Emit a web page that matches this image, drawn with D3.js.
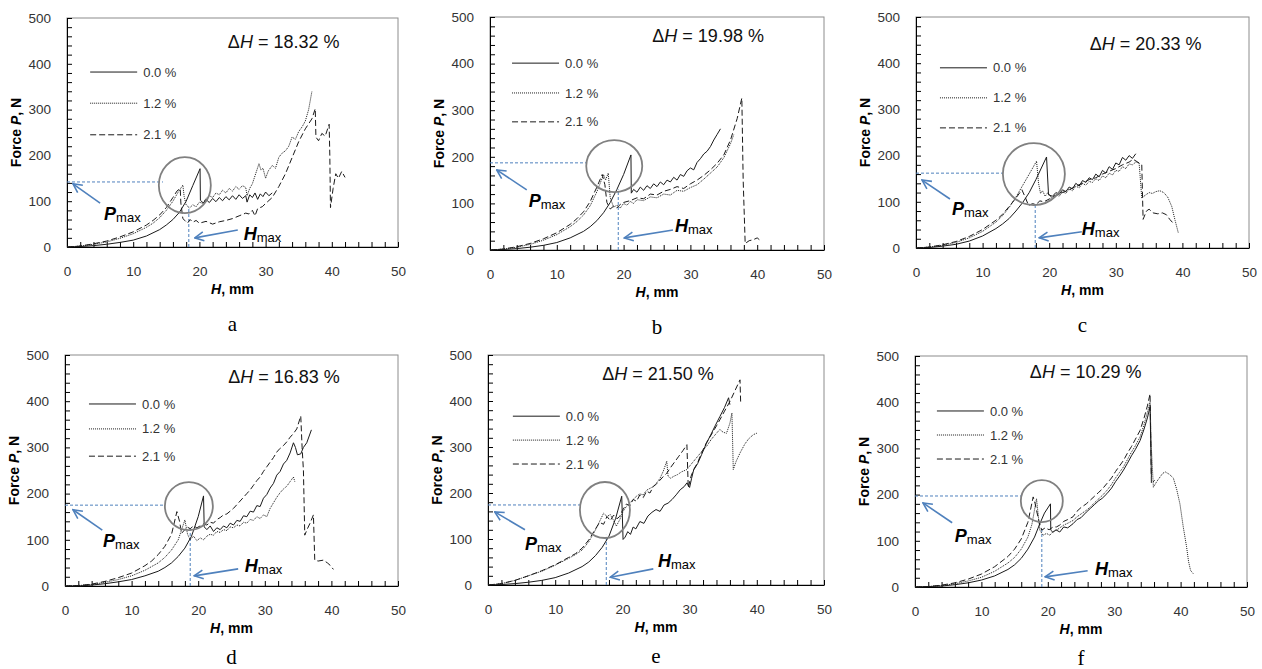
<!DOCTYPE html>
<html>
<head>
<meta charset="utf-8">
<script src="https://cdn.jsdelivr.net/npm/d3@7"></script>
<style>
body { margin: 0; background: #fff; }
svg { display: block; font-family: Arial, "Liberation Sans", sans-serif; }
.tick text { fill: #333; font-size: 13.5px; }
.tick line, .domain { stroke: #000; }
</style>
</head>
<body>
<svg id="fig" width="1262" height="669"></svg>
<script>
// valeurs : [H mm, P N]
var a0 = [[0,0],[2,1],[4,3],[6,6],[8,10],[10,15],[12,24],[14,38],[15,48],[16,60],[17,76],[18,100],[19,134],[20.1,171],[20.15,102],[20.6,96],[21,104],[21.5,97],[22,106],[22.5,99],[23,108],[23.5,101],[24,110],[24.5,103],[25,112],[25.5,104],[26,114],[26.5,106],[27,112],[27.2,98],[27.6,114],[28,108],[28.4,118],[28.8,104],[29.2,116],[29.6,110],[30,120],[30.5,112],[31,118]];
var a12 = [[0,0],[2,2],[4,6],[6,11],[8,19],[10,29],[12,43],[13,52],[14,64],[15,80],[16,100],[16.8,120],[17.5,135],[17.7,110],[18,92],[18.5,85],[19,92],[19.5,88],[20,98],[20.5,95],[21,106],[21.5,112],[22,108],[22.5,118],[23,114],[23.5,124],[24,118],[24.5,128],[25,122],[25.5,132],[26,126],[26.5,134],[27,130],[27.2,112],[27.6,128],[28,138],[28.5,160],[29,182],[29.3,168],[29.6,172],[30,150],[30.4,166],[31,178],[31.5,172],[32,196],[32.5,205],[33,210],[33.5,220],[34,240],[34.5,235],[35,252],[35.5,262],[36,275],[36.5,300],[37,340]];
var a21 = [[0,0],[2,2],[4,7],[6,13],[8,22],[10,33],[12,48],[13,58],[14,70],[15,86],[16,108],[16.6,122],[17.1,128],[17.2,96],[17.5,62],[17.8,58],[18.2,52],[18.6,60],[19,54],[19.5,58],[20,52],[21,56],[22,50],[23,55],[24,58],[25,62],[26,68],[27,74],[27.5,72],[28,80],[28.4,68],[28.8,84],[29.5,88],[30,95],[31,108],[32,132],[33,160],[34,195],[35,230],[36,258],[37,280],[37.5,302],[37.6,240],[38,232],[38.5,248],[39,242],[39.6,268],[39.7,200],[39.8,86],[40.2,128],[40.6,160],[41,150],[41.5,165],[42,152]];

var b0 = [[0,0],[2,1],[4,3],[6,6],[8,10],[10,16],[12,26],[14,40],[15,50],[16,63],[17,80],[18,102],[19,130],[20,162],[21.1,204],[21.15,122],[21.5,130],[22,124],[22.5,135],[23,128],[23.5,138],[24,132],[24.5,142],[25,136],[25.5,146],[26,140],[26.5,150],[27,146],[27.5,156],[28,150],[28.5,162],[29,158],[29.5,170],[30,176],[30.5,172],[31,188],[31.5,196],[32,206],[32.5,212],[33,222],[33.5,236],[34,248],[34.5,260]];
var b12 = [[0,0],[2,2],[4,6],[6,12],[8,21],[10,33],[12,50],[13,61],[14,75],[15,95],[16,125],[17,162],[17.3,150],[17.7,165],[18,112],[18.5,92],[19,96],[19.5,90],[20,100],[20.5,96],[21,104],[21.5,100],[22,108],[23,106],[24,114],[25,112],[26,120],[27,118],[28,128],[29,126],[30,134],[31,140],[32,152],[33,165],[34,178],[35,198],[36,228],[36.5,248]];
var b21 = [[0,0],[2,2],[4,7],[6,14],[8,24],[10,37],[12,55],[13,67],[14,82],[15,104],[16,135],[16.8,162],[17.2,140],[17.5,102],[18,88],[18.5,94],[19,90],[19.5,98],[20,102],[21,106],[22,112],[23,110],[24,120],[25,118],[26,126],[27,130],[28,136],[29,132],[30,142],[31,150],[32,160],[33,172],[34,186],[35,204],[36,236],[37,282],[37.7,326],[37.9,150],[38.2,14],[38.8,20],[39.4,22],[40,26],[40.5,20]];

var c0 = [[0,0],[2,1],[4,4],[6,8],[8,15],[10,26],[12,42],[13,52],[14,64],[15,80],[16,98],[17,120],[18,148],[19.6,197],[19.9,115],[20.5,112],[21,120],[21.5,116],[22,126],[22.5,122],[23,132],[23.5,128],[24,140],[24.5,134],[25,146],[25.5,142],[26,152],[26.5,148],[27,160],[27.5,154],[28,168],[28.5,162],[29,176],[29.5,170],[30,184],[30.5,180],[31,196],[31.5,190],[32,200],[32.5,194],[33,204]];
var c12 = [[0,0],[2,2],[4,6],[6,12],[8,22],[10,36],[12,56],[13,70],[14,88],[15,110],[16,135],[17,160],[18.1,188],[18.4,140],[18.7,118],[19,124],[19.4,112],[19.8,120],[20.4,108],[21,116],[21.5,112],[22,122],[22.5,118],[23,128],[23.5,124],[24,134],[24.5,130],[25,140],[25.5,136],[26,144],[26.5,142],[27,150],[27.5,146],[28,156],[28.5,152],[29,162],[29.5,158],[30,168],[30.5,166],[31,176],[31.5,172],[32,182],[32.5,180],[33,186],[33.5,184],[33.9,108],[34.4,114],[35,120],[35.5,118],[36,122],[36.6,124],[37.2,120],[37.8,110],[38.4,90],[38.9,60],[39.4,32]];
var c21 = [[0,0],[2,2],[4,7],[6,14],[8,25],[10,40],[12,60],[13,73],[14,90],[15,108],[15.9,126],[16.4,110],[16.9,92],[17.5,96],[18,94],[18.6,102],[19.2,100],[20,106],[21,114],[22,120],[23,126],[24,134],[25,140],[26,148],[27,152],[28,160],[29,166],[30,172],[31,180],[32,186],[32.6,192],[33.3,186],[33.9,180],[34.1,62],[34.6,80],[35,84],[35.6,76],[36.3,74],[37,76],[37.6,72],[38.1,62],[38.6,54]];

var d0 = [[0,0],[2,0],[4,2],[6,5],[8,9],[10,14],[12,22],[14,32],[15,40],[16,50],[17,64],[18,82],[19,108],[20,150],[20.8,195],[20.9,128],[21.3,122],[21.8,130],[22.3,118],[22.8,126],[23.3,122],[23.8,130],[24.3,126],[24.8,136],[25.3,132],[25.8,142],[26.3,140],[26.8,152],[27.3,150],[27.8,162],[28.3,160],[28.8,174],[29.3,172],[29.8,190],[30.3,198],[30.8,212],[31.3,222],[31.8,240],[32.3,248],[32.8,264],[33.3,272],[33.8,288],[34.3,310],[34.6,300],[34.9,284],[35.4,286],[35.8,300],[36.3,310],[37,338]];
var d12 = [[0,0],[2,1],[4,3],[6,8],[8,14],[10,22],[12,34],[14,50],[15,62],[16,78],[17,100],[18,143],[18.4,112],[18.8,100],[19.3,108],[19.8,98],[20.3,104],[20.8,100],[21.3,108],[21.8,112],[22.3,110],[22.8,118],[23.3,116],[23.8,122],[24.3,120],[24.8,128],[25.3,126],[25.8,132],[26.3,130],[26.8,138],[27.3,136],[27.8,144],[28.3,142],[28.8,150],[29.3,146],[29.8,154],[30.3,150],[30.8,168],[31.3,180],[31.8,192],[32.3,202],[32.8,210],[33.3,216],[33.8,226],[34.3,236],[34.5,226]];
var d21 = [[0,0],[2,1],[4,4],[6,10],[8,18],[10,28],[12,44],[13,54],[14,68],[15,86],[16,112],[16.8,161],[17.2,140],[17.5,114],[18,122],[18.3,128],[18.8,124],[19.3,130],[19.8,126],[20.3,130],[20.8,134],[21.3,132],[21.8,138],[22.3,136],[22.8,144],[23.3,148],[23.8,154],[24.3,156],[24.8,162],[25.3,168],[25.8,176],[26.3,184],[26.8,192],[27.3,200],[27.8,208],[28.3,218],[28.8,228],[29.3,236],[29.8,248],[30.3,258],[30.8,268],[31.3,278],[31.8,290],[32.3,298],[32.8,304],[33.3,312],[33.8,322],[34.3,330],[34.8,340],[35.4,368],[35.6,300],[35.8,250],[36,110],[36.4,124],[36.8,136],[37.3,154],[37.5,56],[38,54],[38.8,56],[39.4,50],[39.8,45],[40.3,36]];

var e0 = [[0,0],[2,1],[4,3],[6,6],[8,10],[10,16],[12,26],[14,40],[15,50],[16,64],[17,82],[18,106],[19,145],[19.9,193],[20.1,99],[20.4,104],[20.8,116],[21.2,110],[21.6,126],[22,122],[22.6,138],[23.2,134],[23.8,150],[24.4,158],[25,164],[25.6,160],[26.2,174],[26.8,178],[27.4,186],[28,196],[28.6,207],[29.2,214],[29.6,222],[30,212],[30.3,232],[30.6,250],[31.2,264],[31.8,284],[32.5,308],[33.2,328],[33.8,346],[34.5,366],[35.2,386],[35.8,407],[36,392]];
var e12 = [[0,0],[2,3],[4,10],[6,20],[8,30],[10,43],[12,58],[13,66],[14,76],[15,94],[16,120],[17.2,156],[17.7,149],[18.2,153],[18.7,140],[19.1,128],[19.6,142],[20.1,160],[20.6,171],[21.1,178],[21.6,186],[22.1,193],[22.6,198],[23.1,196],[23.6,206],[24.1,210],[24.6,214],[25.1,222],[25.6,232],[26.1,248],[26.6,269],[26.8,236],[27.2,232],[27.6,236],[28.2,240],[28.8,246],[29.6,251],[30.2,262],[31,276],[31.8,290],[32.5,301],[33.2,316],[34,330],[34.5,338],[35,332],[35.5,330],[36,352],[36.3,374],[36.5,251],[36.9,268],[37.5,287],[38.2,306],[38.8,318],[39.5,327],[40,330]];
var e21 = [[0,0],[2,3],[4,10],[6,20],[8,31],[10,44],[12,60],[13,68],[14,80],[15,98],[16,122],[16.6,136],[17.2,132],[17.7,149],[18.2,140],[18.7,152],[19.2,144],[19.6,149],[20,162],[20.6,176],[21.1,172],[21.6,186],[22.1,182],[22.6,196],[23.1,190],[23.6,204],[24.1,200],[24.6,214],[25.1,220],[25.6,228],[26.1,236],[26.6,243],[27.2,256],[27.8,268],[28.4,280],[29,292],[29.6,305],[29.8,211],[30.2,236],[30.6,251],[31.2,266],[31.8,288],[32.5,309],[33.2,326],[34,346],[34.5,359],[35.2,378],[36,399],[36.8,424],[37.5,446],[37.6,396]];

var f0 = [[0,0],[2,1],[4,2],[6,5],[8,9],[10,15],[12,24],[14,38],[15,48],[16,62],[17,82],[18,108],[18.8,137],[19.5,160],[20.4,180],[20.45,123],[20.8,118],[21.2,124],[21.8,119],[22.4,130],[23,128],[23.8,137],[24.4,146],[25,150],[25.8,162],[26.4,170],[27,178],[27.6,186],[28.2,192],[28.9,202],[29.6,214],[30.2,228],[30.8,240],[31.4,253],[32,268],[32.6,284],[33.2,298],[33.9,317],[34.5,342],[35,366],[35.4,390],[35.6,238]];
var f12 = [[0,0],[2,1],[4,3],[6,7],[8,13],[10,21],[12,34],[14,52],[15,64],[16,82],[17,108],[17.6,135],[18.3,191],[18.6,150],[18.8,123],[19.3,112],[19.8,116],[20.3,112],[20.8,120],[21.3,123],[21.8,128],[22.4,134],[23,138],[23.8,144],[24.4,152],[25,158],[25.8,166],[26.4,173],[27,182],[27.6,190],[28.2,198],[28.9,209],[29.6,222],[30.2,236],[30.8,248],[31.4,260],[32,276],[32.6,292],[33.2,306],[33.9,325],[34.5,352],[35,378],[35.4,400],[35.6,300],[35.9,216],[36.4,228],[36.9,238],[37.3,246],[37.7,249],[38.3,244],[38.9,236],[39.4,212],[39.9,180],[40.4,130],[40.9,87],[41.2,55],[41.5,36],[41.9,29]];
var f21 = [[0,0],[2,1],[4,4],[6,9],[8,17],[10,28],[12,44],[14,66],[15,82],[16,104],[17,140],[17.8,195],[18.1,180],[18.3,166],[18.7,140],[19.1,123],[19.6,128],[20.2,124],[20.8,130],[21.3,130],[21.8,134],[22.4,142],[23,146],[23.8,152],[24.4,164],[25,172],[25.8,180],[26.4,188],[27,196],[27.6,204],[28.2,212],[28.9,224],[29.6,236],[30.2,250],[30.8,262],[31.4,274],[32,290],[32.6,304],[33.2,320],[33.9,339],[34.5,366],[35,392],[35.4,418],[35.6,224],[36.1,231]];

var letters = ["a", "b", "c", "d", "e", "f"];
var deltaH = ["18.32", "19.98", "20.33", "16.83", "21.50", "10.29"];
var seriesNames = ["0.0 %", "1.2 %", "2.1 %"];
var curves = [[a0, a12, a21], [b0, b12, b21], [c0, c12, c21], [d0, d12, d21], [e0, e12, e21], [f0, f12, f21]];
// [H fin de ligne, Pmax]
var pmaxLine = [[14.5, 142], [14.4, 187], [13.1, 162], [14.9, 175], [13.8, 174], [16.1, 197]];
// [Hmax, P haut de ligne]
var hmaxLine = [[18.4, 88], [19.2, 130], [17.9, 97], [18.8, 128], [17.6, 109], [19.1, 130]];

// cadres des graphiques (pixels)
var boxes = [
    {x0: 67, x1: 398, y0: 18, y1: 247},
    {x0: 490, x1: 824, y0: 17, y1: 250},
    {x0: 916, x1: 1249, y0: 17, y1: 248},
    {x0: 65, x1: 398, y0: 355, y1: 586},
    {x0: 488, x1: 824, y0: 355, y1: 585},
    {x0: 915, x1: 1247, y0: 356, y1: 587}
];

// placement des annotations, en unites du graphique
var notes = [
    {leg: [3.5, 382, 314, 245], dh: [24.3, 434], pt: [5.0, 96], ph: [0.9, 138], pl: [5.6, 59], ht: [25.8, 37], hh: [19.3, 20], hl: [26.7, 15], circ: [17.8, 135, 26, 28]},
    {leg: [3.3, 401, 337, 275], dh: [24.3, 446], pt: [5.5, 129], ph: [1.0, 172], pl: [5.8, 92], ht: [27.4, 43], hh: [20.1, 26], hl: [27.7, 39], circ: [18.6, 180, 28, 26]},
    {leg: [3.6, 390, 325, 260], dh: [26.1, 428], pt: [5.1, 106], ph: [0.9, 147], pl: [5.4, 71], ht: [24.9, 35], hh: [18.5, 22], hl: [24.9, 28], circ: [17.7, 160, 31, 31]},
    {leg: [3.6, 394, 340, 281], dh: [24.5, 439], pt: [5.6, 121], ph: [1.2, 165], pl: [5.7, 84], ht: [26, 37], hh: [19.4, 22], hl: [27, 30], circ: [18.6, 173, 24, 24]},
    {leg: [3.7, 367, 315, 263], dh: [17.0, 446], pt: [5.5, 120], ph: [1.0, 159], pl: [5.5, 76], ht: [24.6, 35], hh: [18.2, 17], hl: [25.3, 39], circ: [17.4, 163, 25, 28]},
    {leg: [3.3, 381, 329, 277], dh: [17.3, 452], pt: [5.6, 139], ph: [1.2, 182], pl: [6.0, 97], ht: [26, 35], hh: [19.6, 22], hl: [27.1, 26], circ: [19.1, 186, 21, 21]}
];

var dashes = [null, "1,1", "6,3"];
var blue = "#4f81bd";

var svg = d3.select("#fig");

svg.append("defs").append("marker")
    .attr("id", "fleche")
    .attr("viewBox", "0 0 10 10")
    .attr("refX", 9).attr("refY", 5)
    .attr("markerWidth", 7).attr("markerHeight", 7)
    .attr("orient", "auto")
    .append("path")
    .attr("d", "M1,1 L9,5 L1,9")
    .attr("fill", "none")
    .attr("stroke", blue)
    .attr("stroke-width", 1.4);

boxes.forEach(function(b, i) {
    var n = notes[i];
    var x = d3.scaleLinear().domain([0, 50]).range([b.x0, b.x1]);
    var y = d3.scaleLinear().domain([0, 500]).range([b.y1, b.y0]);
    var g = svg.append("g");

    g.append("rect")
        .attr("x", b.x0).attr("y", b.y0)
        .attr("width", b.x1 - b.x0).attr("height", b.y1 - b.y0)
        .attr("fill", "none").attr("stroke", "#8c8c8c");

    g.append("g")
        .attr("transform", "translate(0," + b.y1 + ")")
        .call(d3.axisBottom(x).tickValues(d3.range(0, 51, 2)).tickSize(-5).tickSizeOuter(0).tickPadding(19)
            .tickFormat(function(d) { return d % 10 === 0 ? d : ""; }));

    g.append("g")
        .attr("transform", "translate(" + b.x0 + ",0)")
        .call(d3.axisLeft(y).tickValues(d3.range(0, 501, 20)).tickSize(-5).tickSizeOuter(0).tickPadding(16)
            .tickFormat(function(d) { return d % 100 === 0 ? d : ""; }));

    // titres des axes
    var yt = g.append("text")
        .attr("transform", "translate(" + (b.x0 - 46) + "," + ((b.y0 + b.y1) / 2) + ") rotate(-90)")
        .attr("text-anchor", "middle")
        .attr("font-size", 14).attr("font-weight", "bold");
    yt.append("tspan").text("Force ");
    yt.append("tspan").attr("font-style", "italic").text("P");
    yt.append("tspan").text(", N");

    var xt = g.append("text")
        .attr("x", (b.x0 + b.x1) / 2).attr("y", b.y1 + 47)
        .attr("text-anchor", "middle")
        .attr("font-size", 14).attr("font-weight", "bold");
    xt.append("tspan").attr("font-style", "italic").text("H");
    xt.append("tspan").text(", mm");

    g.append("text")
        .attr("x", (b.x0 + b.x1) / 2).attr("y", b.y1 + (i < 3 ? 84 : 78))
        .attr("text-anchor", "middle")
        .attr("font-family", "'Liberation Serif', 'Times New Roman', serif")
        .attr("font-size", 21)
        .text(letters[i]);

    // lignes bleues Pmax / Hmax
    g.append("line")
        .attr("x1", x(0)).attr("x2", x(pmaxLine[i][0]))
        .attr("y1", y(pmaxLine[i][1])).attr("y2", y(pmaxLine[i][1]))
        .attr("stroke", blue).attr("stroke-dasharray", "3,2");
    g.append("line")
        .attr("x1", x(hmaxLine[i][0])).attr("x2", x(hmaxLine[i][0]))
        .attr("y1", y(0)).attr("y2", y(hmaxLine[i][1]))
        .attr("stroke", blue).attr("stroke-dasharray", "3,2");

    // courbes
    var line = d3.line().x(function(d) { return x(d[0]); }).y(function(d) { return y(d[1]); });
    curves[i].forEach(function(s, k) {
        g.append("path")
            .attr("d", line(s))
            .attr("fill", "none")
            .attr("stroke", "#1a1a1a")
            .attr("stroke-width", 1)
            .attr("stroke-dasharray", dashes[k]);
    });

    // legende
    seriesNames.forEach(function(name, k) {
        var ly = y(n.leg[k + 1]);
        g.append("line")
            .attr("x1", x(n.leg[0])).attr("x2", x(n.leg[0]) + 47)
            .attr("y1", ly).attr("y2", ly)
            .attr("stroke", "#1a1a1a")
            .attr("stroke-dasharray", dashes[k]);
        g.append("text")
            .attr("x", x(n.leg[0]) + 53).attr("y", ly)
            .attr("dy", "0.35em")
            .attr("font-size", 13).attr("fill", "#333")
            .text(name);
    });

    var dh = g.append("text")
        .attr("x", x(n.dh[0])).attr("y", y(n.dh[1]))
        .attr("font-size", 18).attr("fill", "#111");
    dh.append("tspan").text("\u0394");
    dh.append("tspan").attr("font-style", "italic").text("H");
    dh.append("tspan").text(" = " + deltaH[i] + " %");

    // cercle autour du pic
    g.append("ellipse")
        .attr("cx", x(n.circ[0])).attr("cy", y(n.circ[1]))
        .attr("rx", n.circ[2]).attr("ry", n.circ[3])
        .attr("fill", "none").attr("stroke", "#808080").attr("stroke-width", 1.8);

    // fleches
    [[n.pt, n.ph], [n.ht, n.hh]].forEach(function(a) {
        g.append("line")
            .attr("x1", x(a[0][0])).attr("y1", y(a[0][1]))
            .attr("x2", x(a[1][0])).attr("y2", y(a[1][1]))
            .attr("stroke", blue).attr("stroke-width", 1.6)
            .attr("marker-end", "url(#fleche)");
    });

    [["P", n.pl], ["H", n.hl]].forEach(function(l) {
        var t = g.append("text").attr("x", x(l[1][0])).attr("y", y(l[1][1]));
        t.append("tspan").attr("font-size", 18).attr("font-weight", "bold").attr("font-style", "italic").text(l[0]);
        t.append("tspan").attr("font-size", 13).attr("dy", 2).text("max");
    });
});
</script>
</body>
</html>
